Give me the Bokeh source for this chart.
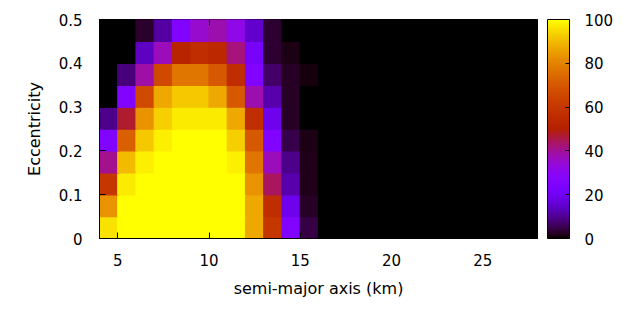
import math
from bokeh.plotting import figure
from bokeh.models import (ColumnDataSource, LinearColorMapper, ColorBar, FixedTicker,
                          LinearAxis, Range1d, CustomJSTickFormatter)
from bokeh.embed import file_html
from bokeh.resources import INLINE

# ---------------- data ----------------
# cell centres along semi-major axis (km)
x_km = [4.5, 5.5, 6.5, 7.5, 8.5, 9.5, 10.5, 11.5, 12.5, 13.5, 14.5, 15.5,
        16.5, 17.5, 18.5, 19.5, 20.5, 21.5, 22.5, 23.5, 24.5, 25.5, 26.5, 27.5]
# cell centres along eccentricity
ecc = [0.025, 0.075, 0.125, 0.175, 0.225, 0.275, 0.325, 0.375, 0.425, 0.475]

z = [0] * 12  # empty cells beyond 16 km
pct_e0025 = [96, 100, 100, 100, 100, 100, 100, 100, 87, 60, 25, 4.5] + z
pct_e0075 = [83, 100, 100, 100, 100, 100, 100, 100, 87, 56, 19, 2.5] + z
pct_e0125 = [60, 97, 100, 100, 100, 100, 100, 100, 83, 44, 12, 1.6] + z
pct_e0175 = [41, 90, 98, 100, 100, 100, 100, 98, 77, 37, 9, 1.6] + z
pct_e0225 = [25, 72, 92, 98, 100, 100, 100, 93, 70, 25, 5, 1.5] + z
pct_e0275 = [9, 47, 83, 93, 97, 97, 97, 87, 56, 19, 2.5, 0] + z
pct_e0325 = [0, 25, 66, 87, 92, 92, 87, 70, 38, 12, 2.5, 0] + z
pct_e0375 = [0, 8, 39, 66, 77, 77, 70, 56, 25, 7, 2.5, 1] + z
pct_e0425 = [0, 0, 14, 37, 52, 56, 54, 42, 22, 3.5, 1.5, 0] + z
pct_e0475 = [0, 0, 3, 11, 25, 35, 38, 32, 15, 3.5, 0, 0] + z
rows = [pct_e0025, pct_e0075, pct_e0125, pct_e0175, pct_e0225,
        pct_e0275, pct_e0325, pct_e0375, pct_e0425, pct_e0475]

x_ticks = [5, 10, 15, 20, 25]
y_ticks = [0, 0.1, 0.2, 0.3, 0.4, 0.5]
y_tick_labels = ["0", "0.1", "0.2", "0.3", "0.4", "0.5"]
cb_ticks = [0, 20, 40, 60, 80, 100]

# ---------------- palette (gnuplot rgbformulae 7,5,15) ----------------
def gp(t):
    r = math.sqrt(t)
    g = t ** 3
    b = max(0.0, math.sin(2 * math.pi * t))
    return "#%02x%02x%02x" % (round(r * 255), round(g * 255), round(b * 255))

palette = [gp(i / 255) for i in range(256)]
mapper = LinearColorMapper(palette=palette, low=0, high=100)

xs, ys, vs = [], [], []
for e, row in zip(ecc, rows):
    for a, v in zip(x_km, row):
        xs.append(a)
        ys.append(e)
        vs.append(v)
src = ColumnDataSource(dict(a=xs, e=ys, v=vs))

FONT = "DejaVu Sans"
FS = "15px"
FS_TITLE = "16px"

p = figure(width=638, height=312, x_range=Range1d(4, 28), y_range=Range1d(0, 0.5),
           output_backend="svg", toolbar_location=None,
           min_border_left=99, min_border_top=19, min_border_right=101, min_border_bottom=74)
p.xaxis.visible = False
p.yaxis.visible = False
p.grid.visible = False
p.outline_line_color = "black"
p.outline_line_width = 1
p.background_fill_color = "white"

p.rect(x="a", y="e", width=1, height=0.05, source=src, dilate=True,
       fill_color={"field": "v", "transform": mapper},
       line_color={"field": "v", "transform": mapper}, line_width=1.2)

def style_axis(ax, ticks):
    ax.ticker = FixedTicker(ticks=ticks)
    ax.axis_line_color = "black"
    ax.major_tick_in = 6
    ax.major_tick_out = 0
    ax.major_tick_line_color = "black"
    ax.minor_tick_line_color = None
    ax.major_label_text_font = FONT
    ax.major_label_text_font_size = FS
    ax.major_label_text_color = "black"
    ax.axis_label_text_font = FONT
    ax.axis_label_text_font_size = FS_TITLE
    ax.axis_label_text_font_style = "normal"
    ax.axis_label_text_color = "black"

xa = LinearAxis(axis_label="semi-major axis (km)")
style_axis(xa, x_ticks)
xa.major_label_standoff = 15
xa.axis_label_standoff = 10
p.add_layout(xa, "below")

ya = LinearAxis(axis_label="Eccentricity")
style_axis(ya, y_ticks)
ya.major_label_overrides = {t: l for t, l in zip(y_ticks, y_tick_labels)}
ya.major_label_standoff = 17
ya.axis_label_standoff = 12
p.add_layout(ya, "left")

# mirrored ticks on the top edge, without labels
xt = LinearAxis(formatter=CustomJSTickFormatter(code="return ''"))
style_axis(xt, x_ticks)
xt.axis_line_color = None
xt.major_label_standoff = 0
p.add_layout(xt, "above")

cb = ColorBar(color_mapper=mapper, ticker=FixedTicker(ticks=cb_ticks),
              width=22, height=219, padding=0, margin=0, location=(10, 0),
              major_tick_in=4, major_tick_out=0, major_tick_line_color="black",
              minor_tick_line_color=None, bar_line_color="black",
              label_standoff=15, major_label_text_font=FONT,
              major_label_text_font_size=FS, major_label_text_color="black",
              background_fill_color=None, border_line_color=None)
p.add_layout(cb, "right")

open("out.html", "w").write(file_html(p, INLINE))
